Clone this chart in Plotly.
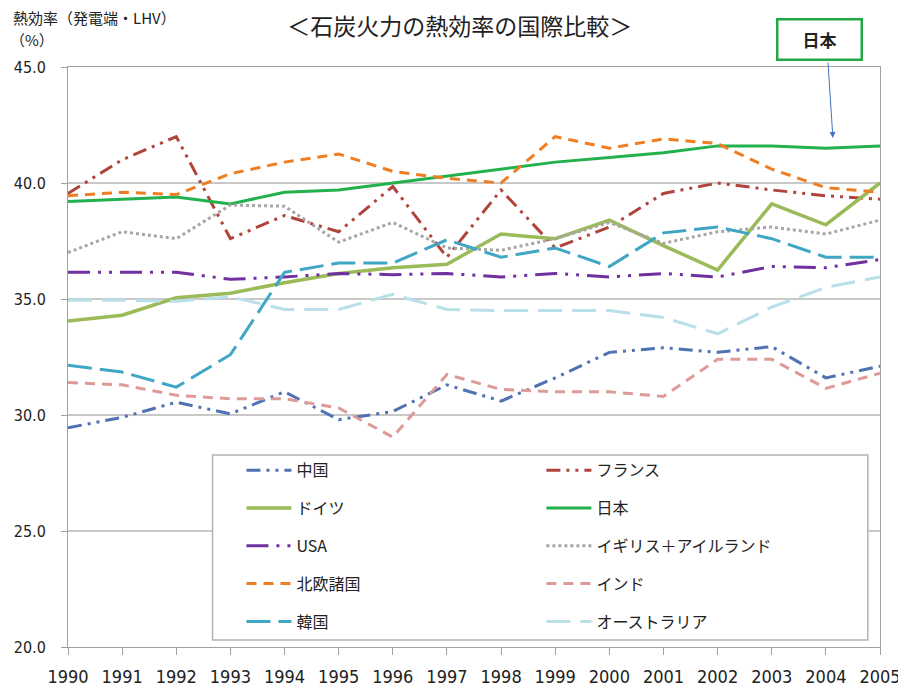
import plotly.graph_objects as go

years = list(range(1990, 2006))

china = [29.45, 29.9, 30.55, 30.05, 31.0, 29.8, 30.15, 31.3, 30.6, 31.6, 32.7, 32.9, 32.7, 32.95, 31.6, 32.1]
france = [39.55, 41.0, 42.0, 37.6, 38.6, 37.9, 39.85, 36.8, 39.7, 37.2, 38.1, 39.55, 40.0, 39.7, 39.45, 39.3]
germany = [34.05, 34.3, 35.05, 35.25, 35.7, 36.1, 36.35, 36.5, 37.8, 37.6, 38.4, 37.3, 36.25, 39.1, 38.2, 40.0]
japan = [39.2, 39.3, 39.4, 39.1, 39.6, 39.7, 40.0, 40.3, 40.6, 40.9, 41.1, 41.3, 41.6, 41.6, 41.5, 41.6]
usa = [36.15, 36.15, 36.15, 35.85, 35.95, 36.1, 36.05, 36.1, 35.95, 36.1, 35.95, 36.1, 35.95, 36.4, 36.35, 36.7]
uk_ireland = [37.0, 37.9, 37.6, 39.05, 39.0, 37.45, 38.3, 37.2, 37.1, 37.6, 38.3, 37.4, 37.9, 38.1, 37.8, 38.4]
nordic = [39.45, 39.6, 39.5, 40.4, 40.9, 41.25, 40.5, 40.2, 40.0, 42.0, 41.5, 41.9, 41.7, 40.6, 39.8, 39.6]
india = [31.4, 31.3, 30.85, 30.7, 30.7, 30.3, 29.05, 31.75, 31.1, 31.0, 31.0, 30.8, 32.4, 32.4, 31.15, 31.8]
korea = [32.15, 31.85, 31.2, 32.6, 36.15, 36.55, 36.55, 37.55, 36.8, 37.2, 36.4, 37.85, 38.1, 37.6, 36.8, 36.8]
australia = [34.95, 34.95, 34.9, 35.1, 34.55, 34.55, 35.2, 34.55, 34.5, 34.5, 34.5, 34.2, 33.5, 34.65, 35.5, 35.95]

series = [
    # name, values, color, dash, width, legend column
    ("中国", china, "#4f72b3", "14px,6px,3px,6px,3px,6px", 3, "legend"),
    ("フランス", france, "#b0443c", "14px,6px,3px,6px,3px,6px", 3, "legend2"),
    ("ドイツ", germany, "#9bbb59", "solid", 3.5, "legend"),
    ("日本", japan, "#22b14c", "solid", 3, "legend2"),
    ("USA", usa, "#7030a0", "22px,8px,3px,8px,3px,8px", 3, "legend"),
    ("イギリス＋アイルランド", uk_ireland, "#a6a6a6", "dot", 3, "legend2"),
    ("北欧諸国", nordic, "#ef7d22", "10px,7px", 3, "legend"),
    ("インド", india, "#dd9b98", "10px,7px", 3, "legend2"),
    ("韓国", korea, "#3fa6c4", "24px,8px", 3, "legend"),
    ("オーストラリア", australia, "#b9dfe9", "24px,10px", 3, "legend2"),
]

fig = go.Figure()
for name, vals, color, dash, width, leg in series:
    fig.add_trace(go.Scatter(
        x=years, y=vals, name=name, mode="lines",
        line=dict(color=color, dash=dash, width=width),
        legend=leg, legendgroup=name,
    ))

font_jp = "Noto Sans CJK JP, Noto Sans, sans-serif"

# page body adds an 8px offset, so the figure is 8px smaller on each axis
fig.update_layout(
    width=898, height=682,
    margin=dict(l=60, r=26, t=59, b=43),
    paper_bgcolor="white", plot_bgcolor="white",
    font=dict(family=font_jp, color="#222222"),
    showlegend=True,
    title=dict(text="＜石炭火力の熱効率の国際比較＞", x=0.503, xanchor="center",
               y=0.972, yanchor="middle", font=dict(size=23, color="#222222")),
    xaxis=dict(
        range=[1990, 2005], tickvals=years, ticks="outside", ticklen=7,
        tickcolor="#a0a0a0", showline=True, linecolor="#a0a0a0", linewidth=1,
        mirror=True, showgrid=False, zeroline=False, ticklabelstandoff=6,
        automargin=False,
        tickfont=dict(family="DejaVu Sans Condensed, Liberation Sans Narrow, Arial", size=18, color="#222222"),
    ),
    yaxis=dict(
        range=[20, 45], dtick=5, tickformat=".1f", ticks="outside", ticklen=6,
        tickcolor="#a0a0a0", showline=True, linecolor="#a0a0a0", linewidth=1,
        mirror=True, showgrid=True, gridcolor="#c8c8c8", gridwidth=2,
        zeroline=False, ticklabelstandoff=12, automargin=False,
        tickfont=dict(family="DejaVu Sans Condensed, Arial", size=16, color="#222222"),
    ),
    legend=dict(
        x=0.2136, y=0.334, xanchor="left", yanchor="top", orientation="v",
        bgcolor="rgba(0,0,0,0)", borderwidth=0, traceorder="grouped",
        tracegroupgap=14, itemwidth=45,
        font=dict(family=font_jp, size=16, color="#222222"),
    ),
    legend2=dict(
        x=0.583, y=0.334, xanchor="left", yanchor="top", orientation="v",
        bgcolor="rgba(0,0,0,0)", borderwidth=0, traceorder="grouped",
        tracegroupgap=14, itemwidth=45,
        font=dict(family=font_jp, size=16, color="#222222"),
    ),
)

# legend frame
fig.add_shape(type="rect", xref="paper", yref="paper",
              x0=0.178, x1=0.985, y0=0.012, y1=0.331,
              line=dict(color="#b4b4b4", width=1.5), fillcolor="white", layer="above")

# axis caption
fig.add_annotation(text="熱効率（発電端・LHV）", xref="paper", yref="paper",
                   x=-0.07, y=1.0845, xanchor="left", yanchor="middle",
                   showarrow=False, font=dict(size=15, color="#222222"))
fig.add_annotation(text="（%）", xref="paper", yref="paper",
                   x=-0.074, y=1.0466, xanchor="left", yanchor="middle",
                   showarrow=False, font=dict(size=15, color="#222222"))

# Japan callout
fig.add_annotation(text="<b>日本</b>", xref="paper", yref="paper",
                   x=0.925, y=1.0466, xanchor="center", yanchor="middle",
                   showarrow=False, width=80, height=36,
                   bordercolor="#22a846", borderwidth=2.5, bgcolor="white",
                   font=dict(size=17, color="#222222"))
fig.add_annotation(x=2004.13, y=41.94, ax=-5, ay=-77, showarrow=True,
                   arrowhead=2, arrowsize=1.2, arrowwidth=1, arrowcolor="#4472c4", text="")

fig.write_html("out.html")
